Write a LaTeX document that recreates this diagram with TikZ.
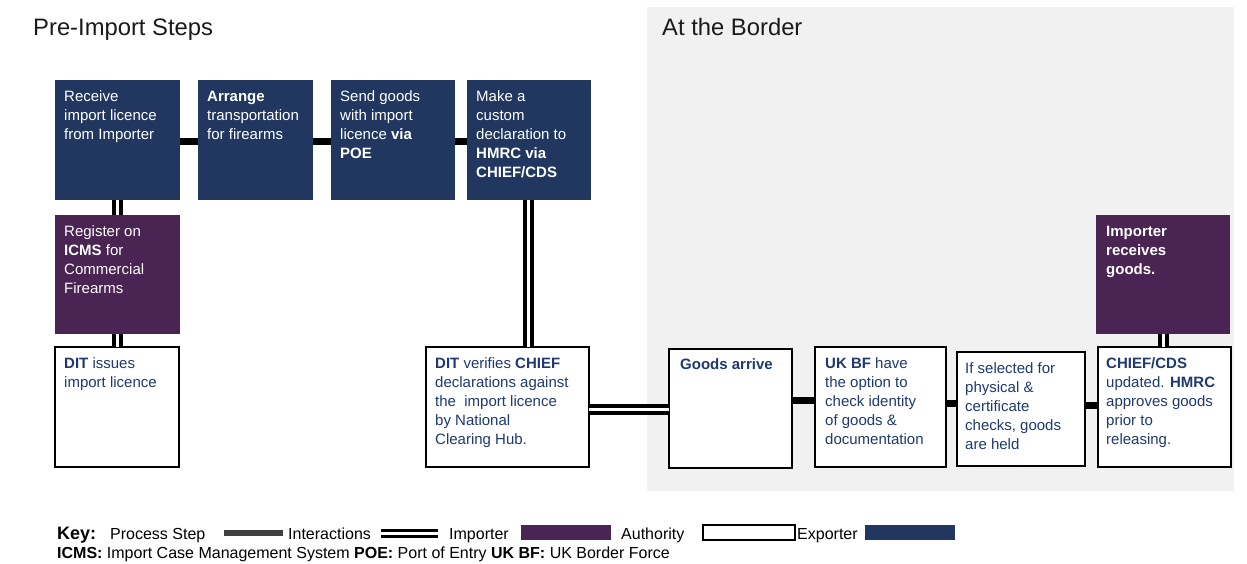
\documentclass[tikz,border=0pt]{standalone}
\usepackage{fontspec}
\setmainfont{Liberation Sans}
\usetikzlibrary{calc}
\definecolor{navy}{HTML}{21375F}
\definecolor{plum}{HTML}{4A2452}
\definecolor{bggray}{HTML}{F1F1F1}
\definecolor{txtnavy}{HTML}{1F3A6E}
\definecolor{titlegray}{HTML}{1A1A1A}
\definecolor{keygray}{HTML}{404040}
\begin{document}
\begin{tikzpicture}[x=1pt,y=-1pt,
  boxbase/.style={inner sep=0pt, anchor=north west, outer sep=0pt},
  exporterbox/.style={boxbase, fill=navy},
  importerbox/.style={boxbase, fill=plum},
  authoritybox/.style={boxbase, fill=white, draw=black, line width=2pt},
  boxtext/.style={inner sep=0pt, anchor=north west, align=left,
    font=\fontsize{15}{19}\selectfont},
  whitetext/.style={boxtext, text=white},
  navytext/.style={boxtext, text=txtnavy},
  stepline/.style={line width=7pt, black},
  interact/.style={draw=black, double=white, double distance=3pt, line width=4pt},
  title/.style={inner sep=0pt, anchor=base west, text=titlegray, font=\fontsize{23.8}{27}\selectfont},
  keytext/.style={inner sep=0pt, anchor=base west, text=black, font=\fontsize{16}{19}\selectfont},
]
\useasboundingbox (0,0) rectangle (1247,563);
\fill[white] (0,0) rectangle (1247,563);
% gray area
\fill[bggray] (647,7) rectangle (1234,491);

% titles
\node[title] (t1) at (33,35) {Pre-Import Steps};
\node[title] (t2) at (662,35) {At the Border};

% boxes
\node[exporterbox, minimum width=125pt, minimum height=120pt] (receive) at (55,80) {};
\node[exporterbox, minimum width=115pt, minimum height=120pt] (arrange) at (198,80) {};
\node[exporterbox, minimum width=124pt, minimum height=120pt] (send) at (331,80) {};
\node[exporterbox, minimum width=124pt, minimum height=120pt] (make) at (467,80) {};
\node[importerbox, minimum width=125pt, minimum height=119pt] (register) at (55,215) {};
\node[authoritybox, minimum width=124pt, minimum height=120pt] (issues) at (55,347) {};
\node[authoritybox, minimum width=163pt, minimum height=120pt] (verify) at (426,347) {};
\node[authoritybox, minimum width=123pt, minimum height=119pt] (arrive) at (669,349) {};
\node[authoritybox, minimum width=131pt, minimum height=120pt] (ukbf) at (815,347) {};
\node[authoritybox, minimum width=128pt, minimum height=114pt] (selected) at (957,352) {};
\node[authoritybox, minimum width=133pt, minimum height=120pt] (chief) at (1098,347) {};
\node[importerbox, minimum width=134pt, minimum height=119pt] (receives) at (1096,215) {};

% texts
\node[whitetext] (receive-t) at ([shift={(9pt,-7.7pt)}]receive.north west) {\strut Receive\\import licence\\from Importer};
\node[whitetext] (arrange-t) at ([shift={(9pt,-7.7pt)}]arrange.north west) {\strut\textbf{Arrange}\\transportation\\for firearms};
\node[whitetext] (send-t) at ([shift={(9pt,-7.7pt)}]send.north west) {\strut Send goods\\with import\\licence \textbf{via}\\\textbf{POE}};
\node[whitetext] (make-t) at ([shift={(9pt,-7.7pt)}]make.north west) {\strut Make a\\custom\\declaration to\\\textbf{HMRC via}\\\textbf{CHIEF/CDS}};
\node[whitetext] (register-t) at ([shift={(9pt,-7.7pt)}]register.north west) {\strut Register on\\\textbf{ICMS} for\\Commercial\\Firearms};
\node[navytext] (issues-t) at ([shift={(9pt,-7.7pt)}]issues.north west) {\strut\textbf{DIT} issues\\import licence};
\node[navytext] (verify-t) at ([shift={(9pt,-7.7pt)}]verify.north west) {\strut\textbf{DIT} verifies \textbf{CHIEF}\\declarations against\\the\ \ import licence\\by National\\Clearing Hub.};
\node[navytext] (arrive-t) at ([shift={(11pt,-6.5pt)}]arrive.north west) {\strut\textbf{Goods arrive}};
\node[navytext] (ukbf-t) at ([shift={(10pt,-7.7pt)}]ukbf.north west) {\strut\textbf{UK BF} have\\the option to\\check identity\\of goods \&\\documentation};
\node[navytext] (selected-t) at ([shift={(8pt,-7.7pt)}]selected.north west) {\strut If selected for\\physical \&\\certificate\\checks, goods\\are held};
\node[navytext] (chief-t) at ([shift={(8pt,-7.7pt)}]chief.north west) {\strut\textbf{CHIEF/CDS}\\updated. \textbf{HMRC}\\approves goods\\prior to\\releasing.};
\node[whitetext] (receives-t) at ([shift={(10pt,-7.7pt)}]receives.north west) {\strut\textbf{Importer}\\\textbf{receives}\\\textbf{goods.}};

% process step connectors
\draw[stepline] ([yshift=-1.5pt]receive.east) -- ([yshift=-1.5pt]receive.east -| arrange.west);
\draw[stepline] ([yshift=-1.5pt]arrange.east) -- ([yshift=-1.5pt]arrange.east -| send.west);
\draw[stepline] ([yshift=-1.5pt]send.east) -- ([yshift=-1.5pt]send.east -| make.west);
\draw[stepline] ([yshift=8pt]arrive.east) -- ([yshift=8pt]arrive.east -| ukbf.west);
\draw[stepline] ([yshift=4pt]ukbf.east) -- ([yshift=4pt]ukbf.east -| selected.west);
\draw[stepline] ([yshift=4pt]selected.east) -- ([yshift=4pt]selected.east -| chief.west);

% interaction connectors
\draw[interact] (receive.south) -- (receive.south |- register.north);
\draw[interact] (register.south) -- (register.south |- issues.north);
\draw[interact] ([xshift=-1pt]make.south) -- ([xshift=-1pt]make.south |- verify.north);
\draw[interact] ([yshift=-2pt]verify.east) -- ([yshift=-2pt]verify.east -| arrive.west);
\draw[interact] (receives.south) -- (receives.south |- chief.north);

% key
\node[keytext, font=\fontsize{18}{20}\selectfont\bfseries] (key) at (57,539) {Key:};
\node[keytext] (k1) at (110,539) {Process Step};
\coordinate (ks1) at (224,533);
\coordinate (ks2) at (283,533);
\draw[line width=6pt, keygray] (ks1) -- (ks2);
\node[keytext] (k2) at (288,539) {Interactions};
\coordinate (ki1) at (381,533.5);
\coordinate (ki2) at (438,533.5);
\draw[draw=black, double=white, double distance=3pt, line width=3pt] (ki1) -- (ki2);
\node[keytext] (k3) at (449,539) {Importer};
\node[boxbase, fill=plum, minimum width=90pt, minimum height=15pt] (kimp) at (521,525) {};
\node[keytext] (k4) at (621,539) {Authority};
\node[boxbase, fill=white, draw=black, line width=2pt, minimum width=92pt, minimum height=15pt] (kauth) at (703,525) {};
\node[keytext] (k5) at (797,539) {Exporter};
\node[boxbase, fill=navy, minimum width=90pt, minimum height=15pt] (kexp) at (865,525) {};
\node[keytext] (k6) at (57,558) {\textbf{ICMS:} Import Case Management System \textbf{POE:} Port of Entry \textbf{UK BF:} UK Border Force};
\end{tikzpicture}
\end{document}
